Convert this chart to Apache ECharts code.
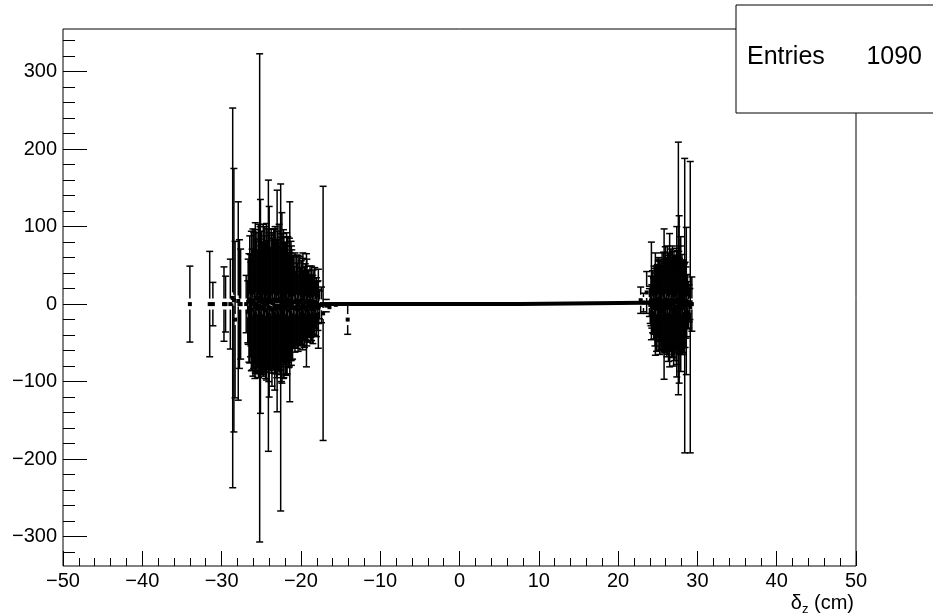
<!DOCTYPE html>
<html>
<head>
<meta charset="utf-8">
<script src="https://cdn.jsdelivr.net/npm/echarts@6/dist/echarts.min.js"></script>
<style>
html,body{margin:0;padding:0;background:#fff;}
#main{width:933px;height:616px;}
</style>
</head>
<body>
<div id="main"></div>
<script>
// left cluster, scattered bins: x (cm), mean, error
const leftX = [-34.0, -31.5, -31.1, -29.7, -29.5, -28.9, -28.6, -28.45, -28.3, -27.9, -27.75, -27.6,
    -26.9, -26.7, -26.3, -25.8, -25.2, -25.1, -24.6, -24.1, -24.0, -23.3, -23.0,
    -22.55, -22.4, -22.2, -21.8, -21.4, -21.2, -19.8, -19.3, -18.8, -18.5, -17.8,
    -17.4, -17.2, -16.8, -16.4, -15.6, -14.1];
const leftY = [0, 0, 0, 0, 0, 0, 8, 5, -20, 4, 0, 0,
    0, -10, 0, 0, 8, -3, 0, -15, 3, -7, 4,
    -56, 8, 0, 0, 3, -2, 0, -8, -6, -7, -6,
    -1, -12, -2, -4, -1, -20];
const leftErr = [49, 68, 28, 48, 36, 58, 245, 170, 101, 128, 83, 71,
    37, 40, 54, 96, 315, 138, 88, 175, 123, 104, 143,
    211, 110, 96, 92, 129, 77, 59, 73, 43, 44, 51,
    23, 164, 8, 6, 4, 19];

// left cluster, dense core bins
const leftCoreX = [-26.65, -26.55, -26.45, -26.35, -26.25, -26.15, -26.05, -25.95, -25.85, -25.75,
    -25.65, -25.55, -25.45, -25.35, -25.25, -25.15, -25.05,
    -24.95, -24.85, -24.75, -24.65, -24.55, -24.45, -24.35, -24.25, -24.15, -24.05,
    -23.95, -23.85, -23.75, -23.65, -23.55, -23.45, -23.35, -23.25, -23.15, -23.05,
    -22.95, -22.85, -22.75, -22.65, -22.55, -22.45, -22.35, -22.25, -22.15, -22.05,
    -21.95, -21.85, -21.75, -21.65, -21.55, -21.45, -21.35, -21.25, -21.15, -21.05,
    -20.95, -20.85, -20.75, -20.65, -20.55, -20.45, -20.35, -20.25, -20.15, -20.05,
    -19.95, -19.85, -19.75, -19.65, -19.55, -19.45, -19.35, -19.25, -19.15, -19.05,
    -18.95, -18.85, -18.75, -18.65, -18.55, -18.45, -18.35, -18.25, -18.15, -18.05,
    -17.95, -17.85, -17.75, -17.65];
const leftCoreY = [3, -5, 6, -2, 4, -7, 2, 5, -4, 8, -3, 1, -6, 4, -2, 7, -5,
    2, -6, 5, -3, 6, -8, 3, -1, 7, -4, 2, -5, 4, -7, 1, 6, -3, 5, -2, -6,
    4, -2, 6, -5, 3, -7, 2, 5, -4, 1, -6, 3, -2, 6, -8, 2, -3, 4, -1, -5,
    3, -4, 2, -6, 5, -2, 1, -7, 4, -3, 2, -5, 6, -1, -4, 3, -6, 2, -3, 1,
    -2, 4, -5, 1, -3, 2, -6, 3, -1, -4, 2, -2, -3, -1];
const leftCoreErr = [55, 70, 82, 66, 90, 78, 95, 88, 72, 97, 84, 91, 76, 99, 86, 93, 80,
    92, 85, 98, 79, 94, 88, 101, 83, 90, 96, 87, 78, 93, 99, 84, 91, 86, 95, 81, 89,
    90, 84, 97, 80, 88, 93, 76, 86, 91, 79, 85, 72, 88, 81, 74, 83, 69, 77, 71, 66,
    60, 52, 64, 48, 58, 55, 62, 45, 57, 50, 54, 47, 60, 44, 52, 49, 41, 56, 46, 43,
    40, 45, 38, 48, 36, 42, 34, 44, 30, 38, 27, 32, 22, 18];

// right cluster, scattered bins
const rightX = [22.85, 23.2, 23.6, 24.2, 24.5, 24.7, 25.1, 25.4, 25.8, 26.2, 26.5,
    26.8, 27.0, 27.4, 27.6, 27.7, 27.9, 28.1, 28.4, 28.6, 29.1, 29.3];
const rightY = [5, 2, 15, 17, -5, 0, 7, -10, 0, 5, 5,
    0, -10, 3, 46, 6, 0, -5, -2, 4, -4, 0];
const rightErr = [17, 12, 27, 63, 40, 66, 53, 50, 97, 70, 86,
    68, 70, 97, 163, 108, 87, 60, 190, 95, 188, 35];

// right cluster, dense core bins
const rightCoreX = [23.95, 24.05, 24.15, 24.25, 24.35, 24.45,
    24.55, 24.65, 24.75, 24.85, 24.95, 25.05, 25.15, 25.25, 25.35, 25.45,
    25.55, 25.65, 25.75, 25.85, 25.95, 26.05, 26.15, 26.25, 26.35, 26.45,
    26.55, 26.65, 26.75, 26.85, 26.95, 27.05, 27.15, 27.25, 27.35, 27.45,
    27.55, 27.65, 27.75, 27.85, 27.95, 28.05, 28.15, 28.25, 28.35, 28.45,
    28.55, 28.65, 28.75, 28.85, 28.95, 29.05];
const rightCoreY = [2, -1, 4, -3, 3, -2,
    5, -4, 2, -6, 4, -2, 6, -5, 1, -3,
    4, -6, 2, -3, 6, -1, -5, 3, -4, 2,
    -2, 5, -6, 3, -1, 4, -5, 2, -3, 6,
    -4, 2, -2, 5, -6, 1, 3, -3, 4, -1,
    2, -2, 3, -1, 1, 0];
const rightCoreErr = [18, 24, 32, 28, 40, 36,
    44, 50, 38, 55, 47, 58, 52, 60, 49, 56,
    62, 54, 65, 58, 68, 60, 63, 57, 70, 61,
    59, 66, 62, 72, 57, 64, 68, 60, 75, 63,
    58, 66, 61, 70, 56, 63, 52, 60, 48, 55,
    46, 40, 35, 30, 24, 20];

// flat central bins (tiny errors): segment edges and mean values
const flatEdges = [-17.6, 7.6, 29.4];
const flatVals = [0, 2.5];

const yMajor = [-300, -200, -100, 0, 100, 200, 300];
const yMinor = [-320, -280, -260, -240, -220, -180, -160, -140, -120, -80, -60, -40, -20,
    20, 40, 60, 80, 120, 140, 160, 180, 220, 240, 260, 280, 320, 340];
const entries = 1090;

const FONT = '"Liberation Sans", Arial, Helvetica, sans-serif';
const minus = v => String(v).replace('-', '\u2212');

let errData = [];
leftX.forEach((x, i) => errData.push([x, leftY[i], leftErr[i]]));
leftCoreX.forEach((x, i) => errData.push([x, leftCoreY[i], leftCoreErr[i]]));
rightX.forEach((x, i) => errData.push([x, rightY[i], rightErr[i]]));
rightCoreX.forEach((x, i) => errData.push([x, rightCoreY[i], rightCoreErr[i]]));

let flatData = [];
flatVals.forEach((v, i) => {
    flatData.push([flatEdges[i], v]);
    flatData.push([flatEdges[i + 1], v]);
});

function renderErr(params, api) {
    let x = api.value(0), y = api.value(1), e = api.value(2);
    let c = api.coord([x, y]);
    let t = api.coord([x, y + e]);
    let b = api.coord([x, y - e]);
    let gap = 5.5, cap = 3.5, m = 2;
    let st = { stroke: '#000', lineWidth: 1.5 };
    let kids = [];
    if (c[1] - gap > t[1]) {
        kids.push({ type: 'line', shape: { x1: c[0], y1: t[1], x2: c[0], y2: c[1] - gap }, style: st });
        kids.push({ type: 'line', shape: { x1: c[0] - cap, y1: t[1], x2: c[0] + cap, y2: t[1] }, style: st });
    }
    if (b[1] > c[1] + gap) {
        kids.push({ type: 'line', shape: { x1: c[0], y1: c[1] + gap, x2: c[0], y2: b[1] }, style: st });
        kids.push({ type: 'line', shape: { x1: c[0] - cap, y1: b[1], x2: c[0] + cap, y2: b[1] }, style: st });
    }
    kids.push({ type: 'rect', shape: { x: c[0] - m, y: c[1] - m, width: 2 * m, height: 2 * m }, style: { fill: '#000' } });
    return { type: 'group', children: kids };
}

const myChart = echarts.init(document.getElementById('main'), null, { renderer: 'canvas' });
const yMin = -338, yMax = 355;

let option = {
    animation: false,
    backgroundColor: '#fff',
    grid: { left: 63, right: 77, top: 29, bottom: 50, show: true, borderColor: '#000', borderWidth: 1, backgroundColor: 'transparent' },
    xAxis: {
        type: 'value', min: -50, max: 50, interval: 10,
        axisLine: { show: false, onZero: false },
        axisTick: { show: true, inside: true, length: 15, lineStyle: { color: '#000', width: 1 } },
        minorTick: { show: true, splitNumber: 5, length: 8, lineStyle: { color: '#000', width: 1 } },
        splitLine: { show: false },
        axisLabel: { color: '#000', fontSize: 20, fontFamily: FONT, margin: 5, formatter: minus },
        name: '\u03b4{sub|z} (cm)',
        nameLocation: 'end', nameGap: -2,
        nameTextStyle: {
            color: '#000', fontSize: 20, fontFamily: FONT, align: 'right', verticalAlign: 'top',
            padding: [25, 0, 0, 0],
            rich: { sub: { fontSize: 13, fontFamily: FONT, color: '#000', padding: [12, 0, 0, 0] } }
        }
    },
    yAxis: [{
        type: 'value', min: yMin, max: yMax,
        axisLine: { show: false, onZero: false },
        axisTick: { show: true, inside: true, length: 24, customValues: yMajor, lineStyle: { color: '#000', width: 1 } },
        splitLine: { show: false },
        axisLabel: { color: '#000', fontSize: 20, fontFamily: FONT, margin: 6, customValues: yMajor, formatter: minus }
    }, {
        type: 'value', min: yMin, max: yMax, position: 'left',
        axisLine: { show: false, onZero: false },
        axisTick: { show: true, inside: true, length: 12, customValues: yMinor, lineStyle: { color: '#000', width: 1 } },
        splitLine: { show: false },
        axisLabel: { show: false }
    }],
    series: [{
        type: 'line',
        data: flatData,
        symbol: 'none',
        lineStyle: { color: '#000', width: 4 },
        z: 3
    }, {
        type: 'custom',
        data: errData,
        renderItem: renderErr,
        clip: true,
        z: 4
    }],
    graphic: [{
        type: 'rect', z: 100,
        shape: { x: 736, y: 5, width: 220, height: 108 },
        style: { fill: '#fff', stroke: '#000', lineWidth: 1 }
    }, {
        type: 'text', z: 101, x: 747, y: 57,
        style: { text: 'Entries', fill: '#000', fontSize: 25, fontFamily: FONT, verticalAlign: 'middle' }
    }, {
        type: 'text', z: 101, x: 922, y: 57,
        style: { text: String(entries), fill: '#000', fontSize: 25, fontFamily: FONT, align: 'right', verticalAlign: 'middle' }
    }]
};
myChart.setOption(option);
</script>
</body>
</html>
